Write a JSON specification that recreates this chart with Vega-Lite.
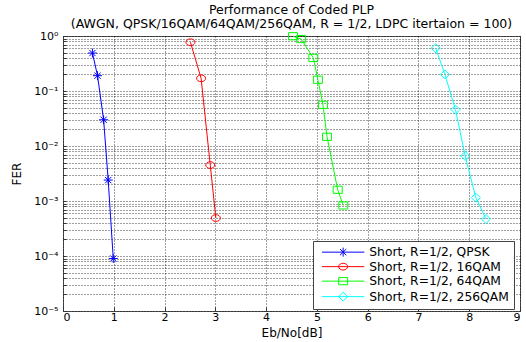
{
  "$schema": "https://vega.github.io/schema/vega-lite/v6.json",
  "autosize": {"type": "none"},
  "padding": {"left": 63, "top": 36, "right": 6, "bottom": 31},
  "width": 457,
  "height": 275,
  "background": "white",
  "title": {
    "text": ["Performance of Coded PLP", "(AWGN, QPSK/16QAM/64QAM/256QAM, R = 1/2, LDPC itertaion = 100)"],
    "font": "DejaVu Sans",
    "fontSize": 12.5,
    "fontWeight": "normal",
    "color": "#000",
    "anchor": "middle",
    "lineHeight": 13.5,
    "offset": 0
  },
  "config": {
    "view": {"stroke": "#555", "strokeWidth": 1},
    "axis": {
      "labelFont": "DejaVu Sans",
      "titleFont": "DejaVu Sans",
      "labelFontSize": 11,
      "titleFontSize": 12,
      "titleFontWeight": "normal",
      "labelColor": "#000",
      "titleColor": "#000",
      "domain": false,
      "tickColor": "#333",
      "gridColor": "#000",
      "gridDash": [1, 2],
      "gridOpacity": 0.75
    }
  },
  "data": {
    "values": [
      {"ebno": 0.58, "fer": 0.49, "series": "Short, R=1/2, QPSK"},
      {"ebno": 0.68, "fer": 0.19, "series": "Short, R=1/2, QPSK"},
      {"ebno": 0.80, "fer": 0.030, "series": "Short, R=1/2, QPSK"},
      {"ebno": 0.89, "fer": 0.0024, "series": "Short, R=1/2, QPSK"},
      {"ebno": 0.99, "fer": 0.00009, "series": "Short, R=1/2, QPSK"},
      {"ebno": 2.51, "fer": 0.77, "series": "Short, R=1/2, 16QAM"},
      {"ebno": 2.72, "fer": 0.17, "series": "Short, R=1/2, 16QAM"},
      {"ebno": 2.90, "fer": 0.0045, "series": "Short, R=1/2, 16QAM"},
      {"ebno": 3.01, "fer": 0.00049, "series": "Short, R=1/2, 16QAM"},
      {"ebno": 4.53, "fer": 0.99, "series": "Short, R=1/2, 64QAM"},
      {"ebno": 4.69, "fer": 0.88, "series": "Short, R=1/2, 64QAM"},
      {"ebno": 4.93, "fer": 0.40, "series": "Short, R=1/2, 64QAM"},
      {"ebno": 5.02, "fer": 0.16, "series": "Short, R=1/2, 64QAM"},
      {"ebno": 5.12, "fer": 0.056, "series": "Short, R=1/2, 64QAM"},
      {"ebno": 5.20, "fer": 0.0147, "series": "Short, R=1/2, 64QAM"},
      {"ebno": 5.41, "fer": 0.0016, "series": "Short, R=1/2, 64QAM"},
      {"ebno": 5.52, "fer": 0.00083, "series": "Short, R=1/2, 64QAM"},
      {"ebno": 7.34, "fer": 0.60, "series": "Short, R=1/2, 256QAM"},
      {"ebno": 7.52, "fer": 0.20, "series": "Short, R=1/2, 256QAM"},
      {"ebno": 7.73, "fer": 0.046, "series": "Short, R=1/2, 256QAM"},
      {"ebno": 7.92, "fer": 0.0066, "series": "Short, R=1/2, 256QAM"},
      {"ebno": 8.13, "fer": 0.00115, "series": "Short, R=1/2, 256QAM"},
      {"ebno": 8.33, "fer": 0.00047, "series": "Short, R=1/2, 256QAM"}
    ]
  },
  "encoding": {
    "x": {
      "field": "ebno",
      "type": "quantitative",
      "scale": {"domain": [0, 9], "nice": false, "zero": false},
      "axis": {"title": "Eb/No[dB]", "values": [0,1,2,3,4,5,6,7,8,9], "tickSize": -4, "labelPadding": 4, "titlePadding": 5}
    },
    "y": {
      "field": "fer",
      "type": "quantitative",
      "scale": {"type": "log", "domain": [0.00001, 1], "nice": false},
      "axis": {
        "title": "FER",
        "titlePadding": 10,
        "labelPadding": 8,
        "labelOverlap": false,
        "values": [0.00001,0.00002,0.00003,0.00004,0.00005,0.00006,0.00007,0.00008,0.00009,
                   0.0001,0.0002,0.0003,0.0004,0.0005,0.0006,0.0007,0.0008,0.0009,
                   0.001,0.002,0.003,0.004,0.005,0.006,0.007,0.008,0.009,
                   0.01,0.02,0.03,0.04,0.05,0.06,0.07,0.08,0.09,
                   0.1,0.2,0.3,0.4,0.5,0.6,0.7,0.8,0.9,1],
        "labelExpr": "abs(log(datum.value)/LN10 - round(log(datum.value)/LN10)) < 0.000001 ? ['10⁰','10⁻¹','10⁻²','10⁻³','10⁻⁴','10⁻⁵'][-round(log(datum.value)/LN10)] : ''",
        "tickSize": -3
      }
    }
  },
  "layer": [
    {
      "mark": {"type": "line", "strokeWidth": 1},
      "encoding": {
        "color": {
          "field": "series",
          "type": "nominal",
          "scale": {
            "domain": ["Short, R=1/2, QPSK", "Short, R=1/2, 16QAM", "Short, R=1/2, 64QAM", "Short, R=1/2, 256QAM"],
            "range": ["#0000ff", "#ff0000", "#00ff00", "#00ffff"]
          },
          "legend": {
            "title": null,
            "orient": "none",
            "legendX": 250,
            "legendY": 205,
            "direction": "vertical",
            "strokeColor": "#444",
            "fillColor": "#fff",
            "padding": 5,
            "symbolOffset": 19,
            "labelOffset": 20,
            "labelFont": "DejaVu Sans",
            "labelFontSize": 12.3,
            "labelColor": "#000",
            "rowPadding": 1.5,
            "symbolSize": 81,
            "symbolStrokeWidth": 1,
            "encode": {
              "symbols": {
                "update": {
                  "shape": {"signal": "datum.value == 'Short, R=1/2, QPSK' ? 'M-4.7,0H4.7M0,-1V1M-0.7,-0.7L0.7,0.7M-0.7,0.7L0.7,-0.7' : datum.value == 'Short, R=1/2, 16QAM' ? 'M-4.7,0H4.7M-1,0A1,0.75 0 1,0 1,0A1,0.75 0 1,0 -1,0' : datum.value == 'Short, R=1/2, 64QAM' ? 'M-4.7,0H4.7M-1,-0.8H1V0.8H-1Z' : 'M-4.7,0H4.7M0,-1L1,0L0,1L-1,0Z'"},
                  "fill": {"value": "transparent"}
                }
              }
            }
          }
        }
      }
    },
    {
      "mark": {"type": "point", "filled": false, "strokeWidth": 1, "size": 81, "opacity": 1},
      "encoding": {
        "color": {
          "field": "series",
          "type": "nominal",
          "scale": {
            "domain": ["Short, R=1/2, QPSK", "Short, R=1/2, 16QAM", "Short, R=1/2, 64QAM", "Short, R=1/2, 256QAM"],
            "range": ["#0000ff", "#ff0000", "#00ff00", "#00ffff"]
          },
          "legend": null
        },
        "shape": {
          "field": "series",
          "type": "nominal",
          "scale": {
            "domain": ["Short, R=1/2, QPSK", "Short, R=1/2, 16QAM", "Short, R=1/2, 64QAM", "Short, R=1/2, 256QAM"],
            "range": ["M0,-1V1M-1,0H1M-0.7,-0.7L0.7,0.7M-0.7,0.7L0.7,-0.7", "M-1,0A1,0.75 0 1,0 1,0A1,0.75 0 1,0 -1,0", "M-1,-0.8H1V0.8H-1Z", "M0,-1L1,0L0,1L-1,0Z"]
          },
          "legend": null
        }
      }
    }
  ],
  "resolve": {"scale": {"color": "independent", "shape": "independent"}, "legend": {"color": "independent"}}
}
